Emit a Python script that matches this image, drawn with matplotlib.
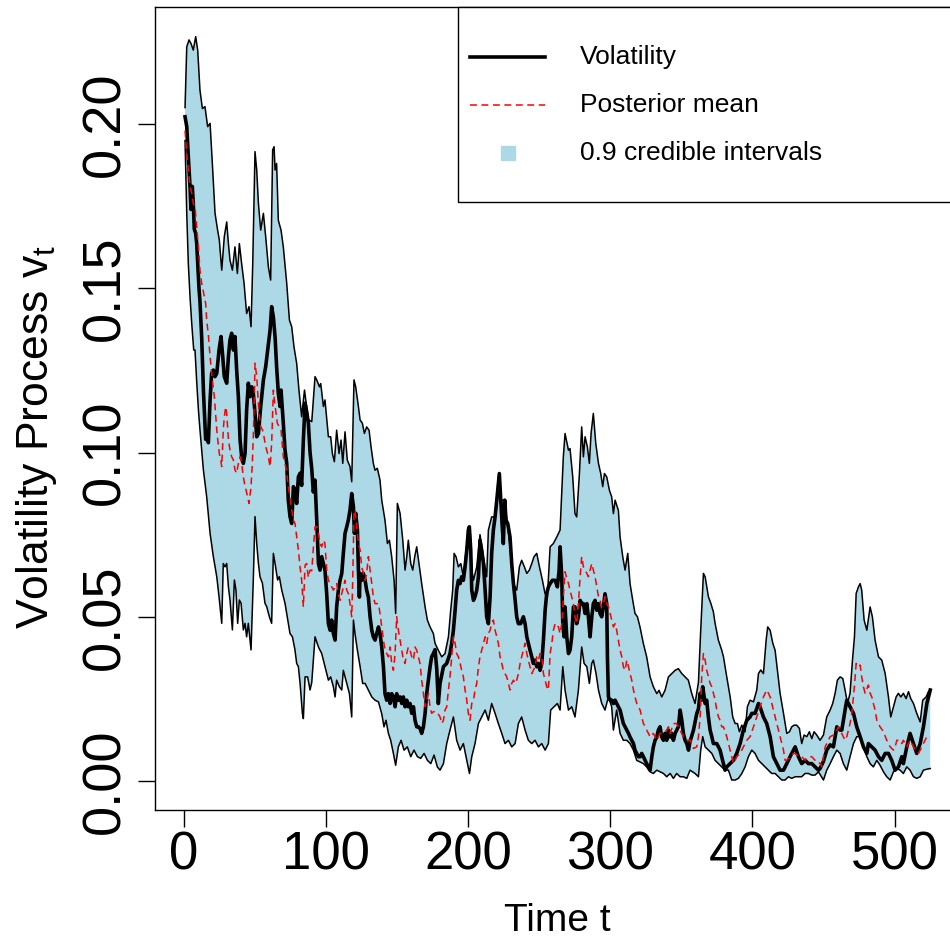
import matplotlib
matplotlib.use("Agg")
import matplotlib.pyplot as plt
from matplotlib.patches import Rectangle

plt.rcParams['font.family'] = ['Liberation Sans', 'DejaVu Sans']

# 0.9 credible interval, upper bound
upper_t = [1.0, 2.2, 3.8, 5.2, 6.8, 8.5, 9.9, 11.5, 13.2, 15.0, 16.9, 18.6, 20.2, 22.1, 23.9, 25.1, 26.8,
           28.6, 30.3, 31.5, 32.6, 34.3, 36.1, 37.8, 39.2, 40.8, 42.5, 44.3, 46.0, 47.4, 48.6, 50.2, 51.4,
           52.6, 54.2, 56.1, 57.7, 59.6, 61.2, 62.6, 63.6, 64.3, 65.4, 66.6, 68.5, 70.1, 72.5, 74.4, 76.0,
           77.6, 79.5, 81.1, 83.0, 85.0, 87.7, 90.1, 92.4, 93.6, 95.5, 96.4, 98.3, 99.4, 101.8, 103.4, 104.6,
           106.0, 107.6, 109.3, 110.7, 111.9, 113.5, 115.1, 117.0, 118.2, 119.8, 121.0, 122.9, 124.1, 125.7,
           127.1, 128.7, 130.4, 131.8, 133.4, 134.6, 136.2, 138.1, 139.3, 141.6, 143.3, 144.7, 146.3, 148.0,
           149.1, 150.3, 152.2, 154.1, 155.7, 156.9, 158.0, 159.7, 161.1, 162.5, 163.9, 165.5, 167.4, 169.8,
           171.4, 173.3, 175.6, 176.8, 179.1, 181.5, 183.8, 186.2, 187.8, 189.2, 190.2, 191.6, 193.2, 194.9,
           196.7, 198.6, 200.2, 201.4, 202.6, 203.8, 206.1, 208.4, 210.8, 213.1, 214.3, 216.6, 219.0, 221.3,
           223.0, 225.3, 227.7, 229.5, 231.9, 234.2, 236.1, 237.7, 239.6, 241.3, 243.1, 244.8, 246.4, 248.3,
           250.2, 252.3, 254.1, 255.8, 257.7, 260.0, 262.4, 264.7, 267.0, 268.2, 270.6, 271.7, 273.6, 275.2,
           276.4, 278.3, 279.9, 281.1, 282.3, 283.9, 285.3, 286.5, 288.1, 289.8, 291.7, 293.3, 294.7, 295.9,
           297.5, 299.4, 301.0, 302.2, 303.4, 305.7, 306.9, 308.8, 310.4, 312.3, 313.9, 315.8, 317.4, 319.1,
           320.9, 323.3, 325.6, 328.0, 330.3, 332.7, 334.3, 336.2, 338.5, 340.9, 343.2, 345.6, 347.9, 350.3,
           352.6, 354.9, 357.3, 359.6, 362.0, 363.5, 365.5, 366.7, 369.0, 370.7, 372.5, 373.7, 376.0, 378.4,
           379.6, 381.9, 384.3, 386.1, 387.8, 389.4, 390.8, 392.5, 394.8, 396.4, 398.3, 400.7, 403.0, 404.2,
           405.8, 407.7, 409.6, 410.7, 412.4, 414.3, 415.9, 417.5, 419.4, 421.8, 424.1, 426.0, 427.6, 429.2,
           431.1, 433.0, 434.6, 436.3, 438.2, 440.0, 441.7, 443.3, 445.2, 447.5, 449.9, 452.2, 454.6, 456.4,
           458.1, 459.7, 461.6, 463.5, 465.1, 466.8, 468.6, 470.3, 471.7, 472.9, 474.5, 475.7, 476.8, 478.5,
           480.4, 482.7, 484.3, 486.2, 488.6, 490.9, 493.3, 495.6, 497.2, 499.1, 501.0, 502.6, 504.3, 506.1,
           508.0, 509.7, 511.3, 513.2, 515.5, 517.9, 519.7, 522.1, 523.7, 525.0]
upper_v = [0.205, 0.2235, 0.2256, 0.2245, 0.2225, 0.2266, 0.2225, 0.2103, 0.2047, 0.2053, 0.1992, 0.2002, 0.188,
           0.1728, 0.1677, 0.1647, 0.1555, 0.1657, 0.1702, 0.1636, 0.1586, 0.1555, 0.1626, 0.1545, 0.1636, 0.1575,
           0.1515, 0.1423, 0.1444, 0.1383, 0.1575, 0.1916, 0.186, 0.1758, 0.1677, 0.1728, 0.1657, 0.1565, 0.1525,
           0.1921, 0.1931, 0.186, 0.188, 0.1707, 0.1677, 0.1626, 0.1515, 0.1403, 0.1383, 0.1322, 0.1271, 0.119,
           0.1109, 0.119, 0.110, 0.1094, 0.1231, 0.1221, 0.120, 0.121, 0.114, 0.116, 0.1048, 0.1048, 0.0997,
           0.0972, 0.1068, 0.0997, 0.1038, 0.0967, 0.1063, 0.0977, 0.0957, 0.0911, 0.1221, 0.120, 0.114, 0.1099,
           0.1089, 0.1058, 0.1078, 0.1068, 0.1017, 0.0967, 0.0946, 0.0952, 0.0916, 0.0855, 0.0794, 0.0723, 0.0733,
           0.0683, 0.0611, 0.051, 0.0845, 0.0815, 0.0733, 0.0642, 0.0683, 0.0733, 0.0662, 0.0642, 0.0683, 0.0713,
           0.0662, 0.0601, 0.053, 0.049, 0.0469, 0.0449, 0.0419, 0.0398, 0.0378, 0.0388, 0.0439, 0.052, 0.0581,
           0.0693, 0.0682, 0.0652, 0.0662, 0.0622, 0.0703, 0.0754, 0.0774, 0.0642, 0.0611, 0.0652, 0.075, 0.0682,
           0.0622, 0.0764, 0.0804, 0.0804, 0.0926, 0.0855, 0.0855, 0.0784, 0.0713, 0.0601, 0.0581, 0.0652, 0.0672,
           0.0652, 0.0632, 0.0642, 0.0662, 0.0683, 0.0693, 0.0652, 0.0611, 0.0571, 0.0561, 0.0713, 0.0723, 0.0743,
           0.0764, 0.0987, 0.1058, 0.1007, 0.1012, 0.0926, 0.0814, 0.0804, 0.0936, 0.1078, 0.0987, 0.1048, 0.1017,
           0.0967, 0.1058, 0.1119, 0.1028, 0.0967, 0.0936, 0.0896, 0.0936, 0.0926, 0.0885, 0.0865, 0.0814, 0.0855,
           0.0824, 0.0743, 0.0682, 0.0642, 0.0693, 0.0601, 0.055, 0.051, 0.050, 0.0469, 0.0418, 0.0378, 0.0317,
           0.0287, 0.0266, 0.0276, 0.0256, 0.0276, 0.0317, 0.0327, 0.0337, 0.0342, 0.0327, 0.0317, 0.0307, 0.0266,
           0.0236, 0.030, 0.045, 0.0632, 0.0622, 0.0561, 0.0541, 0.0515, 0.048, 0.0429, 0.0398, 0.0378, 0.0317,
           0.0256, 0.0195, 0.0175, 0.0175, 0.015, 0.017, 0.015, 0.0226, 0.0246, 0.0241, 0.0277, 0.0327, 0.0338,
           0.0327, 0.0429, 0.0469, 0.0459, 0.0419, 0.0398, 0.0338, 0.0267, 0.0206, 0.0145, 0.015, 0.0165, 0.017,
           0.017, 0.016, 0.0114, 0.014, 0.0135, 0.015, 0.0129, 0.015, 0.014, 0.0124, 0.014, 0.0195, 0.0216, 0.0236,
           0.0267, 0.0307, 0.0317, 0.0312, 0.0277, 0.0236, 0.0267, 0.0368, 0.0439, 0.0571, 0.0591, 0.0601, 0.0581,
           0.049, 0.0459, 0.053, 0.050, 0.0429, 0.0378, 0.0368, 0.0327, 0.0256, 0.0195, 0.0226, 0.0256, 0.0267,
           0.0256, 0.0267, 0.0251, 0.0272, 0.0251, 0.0236, 0.0206, 0.018, 0.0246, 0.0256, 0.0272, 0.0277]

# 0.9 credible interval, lower bound
lower_t = [1.0, 2.2, 3.3, 4.5, 5.7, 7.1, 8.0, 9.2, 10.4, 11.5, 13.9, 16.2, 18.6, 20.9, 23.3, 24.9, 26.8, 27.9,
           29.1, 30.3, 31.5, 32.6, 34.3, 35.7, 36.8, 38.0, 39.2, 40.4, 42.0, 43.2, 44.3, 45.5, 47.4, 49.0, 50.2,
           51.4, 52.6, 53.7, 55.4, 57.2, 58.4, 60.3, 61.9, 63.1, 64.3, 66.1, 67.3, 69.0, 71.3, 73.6, 74.8, 76.5,
           78.3, 79.5, 80.7, 81.9, 83.5, 84.2, 85.4, 87.2, 88.9, 90.1, 92.4, 94.8, 97.1, 99.4, 101.8, 103.4, 105.3,
           106.5, 107.6, 109.5, 111.2, 112.3, 114.7, 116.6, 118.2, 119.4, 120.5, 122.2, 124.1, 125.9, 127.6, 129.9,
           132.3, 134.6, 137.0, 139.3, 140.9, 142.3, 144.0, 145.6, 147.5, 149.1, 151.0, 152.9, 155.0, 157.3, 159.7,
           162.0, 164.4, 166.7, 169.1, 171.4, 173.8, 176.1, 178.4, 180.3, 182.7, 185.0, 187.3, 189.7, 192.0, 194.4,
           196.7, 199.1, 201.0, 202.6, 204.9, 207.3, 209.6, 212.0, 214.3, 216.6, 219.0, 221.3, 223.7, 226.0, 228.4,
           230.7, 233.1, 235.4, 237.7, 240.1, 242.4, 244.8, 247.1, 249.5, 251.8, 254.2, 256.5, 258.1, 260.5, 262.8,
           264.7, 266.6, 268.2, 270.6, 272.9, 275.2, 277.6, 279.9, 281.6, 283.5, 285.3, 287.0, 288.1, 290.0, 291.7,
           294.0, 296.3, 298.7, 301.0, 302.2, 304.5, 306.9, 309.2, 311.6, 313.9, 316.3, 318.6, 321.0, 323.3, 325.6,
           328.0, 330.3, 332.7, 335.0, 337.4, 339.7, 342.1, 344.4, 346.7, 349.1, 351.4, 353.8, 356.1, 359.6, 362.0,
           363.6, 365.0, 366.7, 369.0, 371.4, 373.7, 376.0, 378.4, 380.7, 383.1, 385.4, 387.8, 390.1, 392.5, 394.8,
           397.1, 399.5, 401.8, 404.2, 406.5, 408.9, 411.2, 413.5, 415.9, 418.2, 420.6, 422.9, 425.3, 427.6, 430.0,
           432.3, 434.6, 437.0, 439.3, 441.7, 444.0, 446.4, 449.9, 452.2, 454.6, 456.9, 459.3, 461.6, 463.9, 466.3,
           468.6, 471.0, 473.3, 475.7, 478.0, 480.4, 482.7, 485.0, 487.4, 489.7, 492.1, 494.4, 496.8, 499.1, 501.5,
           503.8, 506.1, 508.5, 510.8, 513.2, 515.5, 517.9, 520.2, 522.6, 525.0]
lower_v = [0.195, 0.1728, 0.1575, 0.1474, 0.1393, 0.1312, 0.1312, 0.1215, 0.113, 0.1069, 0.0947, 0.0866, 0.0754,
           0.0683, 0.0622, 0.0561, 0.048, 0.0662, 0.0652, 0.0662, 0.0591, 0.0551, 0.046, 0.0612, 0.0581, 0.048,
           0.0551, 0.0541, 0.046, 0.048, 0.0439, 0.048, 0.0399, 0.0612, 0.0805, 0.0723, 0.0662, 0.0622, 0.0602,
           0.0541, 0.0531, 0.050, 0.048, 0.0693, 0.0662, 0.0612, 0.0622, 0.0581, 0.0541, 0.048, 0.0449, 0.0439,
           0.0399, 0.0358, 0.0348, 0.0297, 0.0206, 0.019, 0.0317, 0.0317, 0.0277, 0.030, 0.0439, 0.0408, 0.0388,
           0.0348, 0.0307, 0.0317, 0.0287, 0.0256, 0.0307, 0.0287, 0.0277, 0.0337, 0.0297, 0.0266, 0.0195, 0.049,
           0.0449, 0.0398, 0.0348, 0.0297, 0.0297, 0.0277, 0.0256, 0.0246, 0.0241, 0.0205, 0.0165, 0.0185, 0.0145,
           0.0124, 0.0084, 0.0048, 0.0104, 0.0124, 0.0094, 0.0104, 0.0074, 0.0094, 0.0074, 0.0069, 0.0084, 0.0063,
           0.0053, 0.0079, 0.0043, 0.0033, 0.0053, 0.0114, 0.0155, 0.0195, 0.0124, 0.0094, 0.0114, 0.0063, 0.0023,
           0.0074, 0.0114, 0.0175, 0.0195, 0.0216, 0.0185, 0.0236, 0.0206, 0.0175, 0.0145, 0.0114, 0.0124, 0.0104,
           0.0114, 0.0175, 0.0195, 0.0155, 0.0124, 0.0114, 0.0124, 0.0104, 0.0114, 0.0094, 0.0114, 0.0216, 0.0226,
           0.0236, 0.0216, 0.0348, 0.0277, 0.0216, 0.0226, 0.0195, 0.0277, 0.0408, 0.0358, 0.0348, 0.0297, 0.0358,
           0.0368, 0.0327, 0.0277, 0.0236, 0.0216, 0.0256, 0.0226, 0.0155, 0.0216, 0.0145, 0.0124, 0.0124, 0.0114,
           0.0094, 0.0063, 0.0058, 0.0053, 0.0043, 0.0028, 0.0023, 0.0033, 0.0028, 0.0023, 0.0013, 0.0023, 0.0008,
           0.0023, 0.0013, 0.0013, 0.0008, 0.0033, 0.0023, 0.0013, 0.0094, 0.0135, 0.0104, 0.0094, 0.0084, 0.0063,
           0.0053, 0.0043, 0.0033, 0.0033, 0.0003, 0.0003, 0.0008, 0.0023, 0.0043, 0.0074, 0.0094, 0.0084, 0.0063,
           0.0053, 0.0043, 0.0033, 0.0023, 0.0023, 0.0013, 0.0003, 0.0003, 0.0013, 0.0008, 0.0013, 0.0013, 0.0013,
           0.0023, 0.0023, 0.0018, 0.0018, 0.0028, 0.0003, 0.0033, 0.0053, 0.0074, 0.0094, 0.0084, 0.0053, 0.0033,
           0.0074, 0.0114, 0.0135, 0.0135, 0.0104, 0.0074, 0.0053, 0.0043, 0.0063, 0.0048, 0.0028, 0.0013, 0.0003,
           0.0028, 0.0038, 0.0033, 0.0023, 0.0043, 0.0033, 0.0013, 0.0008, 0.0013, 0.0033, 0.0036, 0.0038]

# true volatility path
vol_t = [1.0, 2.2, 3.3, 4.5, 5.2, 6.1, 6.8, 7.5, 8.5, 9.2, 9.9, 10.8, 11.5, 12.7, 14.0, 15.5, 16.5, 17.4, 18.6,
         19.7, 20.9, 22.1, 23.3, 24.9, 26.3, 27.5, 28.6, 30.3, 31.5, 32.6, 33.8, 35.0, 36.1, 37.3, 38.5, 39.7,
         40.8, 42.0, 43.2, 44.3, 45.5, 46.7, 47.9, 49.0, 50.2, 51.4, 52.6, 54.2, 56.1, 57.7, 59.1, 60.8, 61.9,
         63.1, 64.3, 65.4, 66.6, 67.8, 68.5, 70.1, 71.3, 72.5, 73.6, 74.8, 76.0, 77.2, 78.3, 79.5, 80.7, 81.9,
         83.0, 84.2, 85.4, 86.5, 87.7, 88.9, 90.1, 91.2, 92.4, 93.6, 94.8, 95.9, 97.1, 98.3, 99.4, 100.6, 101.8,
         103.0, 104.1, 105.3, 106.5, 107.6, 108.8, 110.0, 111.2, 112.3, 113.5, 114.7, 115.8, 117.0, 118.2, 119.4,
         120.1, 121.0, 122.2, 122.9, 123.6, 124.1, 125.2, 126.4, 127.6, 128.7, 129.9, 131.1, 132.3, 133.4, 134.6,
         135.8, 137.0, 138.1, 139.3, 140.5, 141.6, 142.8, 144.0, 145.2, 146.3, 147.5, 148.7, 149.8, 151.0, 152.2,
         153.4, 154.5, 155.7, 156.9, 158.0, 159.2, 160.4, 161.6, 162.7, 163.9, 165.1, 166.2, 167.4, 168.6, 169.8,
         170.9, 172.1, 173.3, 174.4, 175.6, 176.8, 178.0, 179.1, 180.3, 182.7, 185.0, 187.3, 188.5, 189.7, 190.9,
         192.0, 193.2, 194.4, 195.5, 196.7, 197.9, 199.1, 200.2, 200.9, 201.9, 202.6, 203.8, 204.9, 206.1, 207.3,
         208.4, 209.6, 210.8, 212.0, 213.1, 214.3, 215.5, 216.6, 217.8, 219.0, 220.2, 221.3, 222.0, 223.0, 223.9,
         224.8, 225.8, 226.7, 227.9, 229.5, 230.7, 231.9, 233.1, 234.2, 235.4, 237.0, 238.9, 240.1, 241.3, 242.4,
         243.6, 244.8, 245.9, 247.1, 248.3, 249.5, 250.6, 251.8, 253.0, 254.2, 255.3, 256.5, 257.7, 259.3, 261.2,
         262.8, 264.0, 264.7, 265.9, 266.6, 267.5, 268.2, 269.4, 270.6, 271.7, 272.9, 274.1, 275.2, 276.4, 277.6,
         278.8, 279.9, 281.1, 282.3, 283.5, 284.6, 285.8, 287.0, 288.1, 289.3, 290.5, 291.7, 292.8, 294.0, 295.2,
         296.3, 297.5, 298.0, 298.7, 299.9, 301.0, 302.2, 303.4, 304.5, 305.7, 306.9, 308.1, 309.2, 310.4, 311.6,
         312.8, 313.9, 315.1, 316.3, 317.4, 318.6, 319.8, 321.0, 322.1, 323.3, 324.5, 325.6, 326.8, 328.0, 329.2,
         330.3, 331.5, 332.7, 333.8, 335.0, 336.2, 337.4, 338.5, 339.7, 340.9, 342.1, 343.2, 344.4, 345.6, 346.7,
         347.9, 349.1, 350.3, 351.4, 352.6, 353.8, 355.0, 356.1, 358.5, 360.8, 362.0, 363.2, 364.3, 365.0, 366.7,
         367.8, 369.0, 370.2, 371.4, 372.5, 374.9, 377.2, 379.6, 380.7, 381.9, 384.2, 386.6, 388.9, 391.3, 393.6,
         396.0, 398.3, 399.5, 401.8, 404.2, 405.3, 407.7, 410.0, 412.4, 414.7, 417.1, 419.4, 421.8, 424.1, 426.4,
         428.8, 430.0, 432.3, 434.6, 437.0, 439.3, 441.7, 444.0, 446.4, 447.5, 449.9, 452.2, 454.6, 456.9, 458.1,
         459.3, 461.6, 462.8, 463.9, 465.1, 466.3, 468.6, 471.0, 473.3, 475.7, 478.0, 480.4, 481.5, 483.9, 486.2,
         488.6, 490.9, 493.3, 495.6, 497.9, 500.3, 502.6, 505.0, 506.1, 508.5, 510.8, 513.2, 515.5, 517.9, 520.2,
         522.6, 525.0]
vol_v = [0.2022, 0.1992, 0.190, 0.181, 0.174, 0.181, 0.176, 0.168, 0.1667, 0.1636, 0.1575, 0.150, 0.146, 0.135,
         0.118, 0.104, 0.106, 0.103, 0.116, 0.1241, 0.1251, 0.1231, 0.1241, 0.1312, 0.1353, 0.1292, 0.1231, 0.1211,
         0.1292, 0.1343, 0.1363, 0.1312, 0.1353, 0.1251, 0.117, 0.1038, 0.0987, 0.0967, 0.0997, 0.1129, 0.1211,
         0.117, 0.120, 0.118, 0.112, 0.1048, 0.1058, 0.114, 0.1221, 0.1261, 0.1312, 0.1373, 0.1444, 0.1413, 0.1352,
         0.1261, 0.118, 0.114, 0.119, 0.1089, 0.1008, 0.0967, 0.0855, 0.0805, 0.0784, 0.0896, 0.0886, 0.0845,
         0.0926, 0.0937, 0.090, 0.1038, 0.115, 0.1125, 0.109, 0.100, 0.095, 0.088, 0.0916, 0.0794, 0.0662, 0.0642,
         0.0683, 0.0662, 0.0642, 0.057, 0.0479, 0.0459, 0.049, 0.0449, 0.0429, 0.053, 0.0581, 0.0611, 0.0632,
         0.0693, 0.0754, 0.0774, 0.0794, 0.0825, 0.0875, 0.0835, 0.0754, 0.0815, 0.0764, 0.0642, 0.056, 0.0632,
         0.0611, 0.0632, 0.0611, 0.0581, 0.056, 0.050, 0.0459, 0.0439, 0.0429, 0.0449, 0.0469, 0.0449, 0.0408,
         0.0348, 0.0266, 0.0246, 0.0266, 0.0236, 0.0266, 0.0256, 0.0226, 0.0266, 0.0246, 0.0256, 0.0236, 0.0256,
         0.0226, 0.0246, 0.0226, 0.0236, 0.0206, 0.0226, 0.0185, 0.0165, 0.0165, 0.016, 0.0145, 0.0165, 0.0206,
         0.0266, 0.0307, 0.0348, 0.0378, 0.0388, 0.040, 0.034, 0.0236, 0.0297, 0.0348, 0.0358, 0.0388, 0.0419,
         0.0459, 0.052, 0.0581, 0.0611, 0.0601, 0.0622, 0.0611, 0.0652, 0.0703, 0.0764, 0.0774, 0.0703, 0.0581,
         0.055, 0.0561, 0.0581, 0.0622, 0.0733, 0.0703, 0.0662, 0.0581, 0.050, 0.0479, 0.0561, 0.0693, 0.0764,
         0.0804, 0.0855, 0.0906, 0.0936, 0.0855, 0.0784, 0.0723, 0.0855, 0.0794, 0.0784, 0.0743, 0.0662, 0.0601,
         0.0551, 0.050, 0.0479, 0.0479, 0.050, 0.0479, 0.0439, 0.0419, 0.0398, 0.0378, 0.0358, 0.0368, 0.0348,
         0.0358, 0.0337, 0.0358, 0.0429, 0.052, 0.0571, 0.0591, 0.0601, 0.0611, 0.0611, 0.0591, 0.064, 0.0713,
         0.0622, 0.0479, 0.0439, 0.053, 0.0439, 0.0388, 0.0398, 0.0439, 0.053, 0.053, 0.0479, 0.050, 0.055, 0.054,
         0.054, 0.051, 0.054, 0.050, 0.0439, 0.050, 0.054, 0.055, 0.052, 0.054, 0.051, 0.050, 0.053, 0.057, 0.054,
         0.0378, 0.0256, 0.0246, 0.0246, 0.0236, 0.0246, 0.0236, 0.0226, 0.0216, 0.0195, 0.0175, 0.0165, 0.0155,
         0.0145, 0.0134, 0.0124, 0.0114, 0.0094, 0.0084, 0.0074, 0.0074, 0.0084, 0.0074, 0.0063, 0.0053, 0.0043,
         0.0033, 0.0074, 0.0104, 0.0124, 0.0134, 0.0155, 0.0165, 0.0134, 0.0124, 0.0145, 0.0124, 0.0155, 0.0134,
         0.0145, 0.0124, 0.0145, 0.0155, 0.0165, 0.0216, 0.0185, 0.0145, 0.0124, 0.0114, 0.0094, 0.012, 0.0155,
         0.0205, 0.022, 0.0267, 0.0246, 0.0287, 0.0236, 0.0246, 0.0195, 0.0155, 0.0135, 0.0114, 0.0114, 0.0094,
         0.0053, 0.0033, 0.0043, 0.0053, 0.0063, 0.0084, 0.0114, 0.0155, 0.0185, 0.0195, 0.0206, 0.0206, 0.0236,
         0.0226, 0.0195, 0.0175, 0.0135, 0.0074, 0.0053, 0.0033, 0.0033, 0.0053, 0.0074, 0.0094, 0.0104, 0.0074,
         0.0053, 0.0063, 0.0053, 0.0053, 0.0043, 0.0033, 0.0038, 0.006, 0.0094, 0.011, 0.0104, 0.0135, 0.0165,
         0.0155, 0.0155, 0.0185, 0.0216, 0.0246, 0.0226, 0.0206, 0.0165, 0.0135, 0.0104, 0.0084, 0.0114, 0.0104,
         0.0094, 0.0074, 0.0063, 0.0084, 0.0084, 0.0063, 0.0033, 0.0043, 0.0074, 0.0053, 0.0104, 0.0145, 0.0114,
         0.0084, 0.0114, 0.0165, 0.0236, 0.0277]

# posterior mean
mean_t = [1.0, 2.2, 3.3, 4.5, 5.7, 6.8, 8.0, 9.2, 10.4, 11.5, 12.7, 14.6, 15.5, 16.2, 17.4, 18.6, 20.2, 21.6,
          22.6, 23.3, 24.0, 25.1, 26.1, 26.8, 27.9, 28.6, 29.6, 30.3, 31.5, 32.6, 33.8, 35.0, 36.1, 37.3, 38.5,
          39.7, 40.8, 42.0, 43.2, 43.9, 45.0, 46.0, 47.4, 48.3, 49.0, 49.7, 50.2, 51.4, 52.1, 53.0, 54.2, 55.4,
          56.5, 57.7, 59.1, 60.8, 61.9, 62.6, 63.1, 63.8, 64.7, 65.9, 67.1, 68.5, 70.1, 71.3, 72.5, 73.6, 74.8,
          76.0, 77.2, 78.3, 79.5, 80.7, 81.9, 83.0, 84.2, 85.4, 86.5, 87.7, 88.9, 90.1, 91.2, 92.4, 93.6, 94.8,
          95.9, 97.1, 98.3, 99.4, 100.6, 101.8, 103.0, 104.1, 105.3, 106.5, 107.6, 108.8, 110.0, 111.2, 112.3,
          113.5, 114.7, 115.8, 117.0, 118.2, 118.9, 119.8, 120.5, 121.7, 122.9, 124.1, 125.2, 126.4, 127.6, 128.7,
          129.9, 131.1, 132.3, 133.4, 134.6, 137.0, 138.1, 139.3, 140.5, 141.6, 142.8, 144.0, 145.2, 146.3, 147.5,
          148.7, 149.8, 151.0, 152.2, 153.4, 154.5, 155.7, 156.9, 158.0, 159.2, 160.4, 161.6, 162.7, 163.9, 165.1,
          166.2, 167.4, 168.6, 169.8, 170.9, 172.1, 173.3, 174.4, 175.6, 178.0, 180.3, 181.5, 182.7, 183.8, 185.0,
          186.2, 187.3, 188.5, 189.7, 190.9, 192.0, 193.2, 194.4, 195.5, 196.7, 197.9, 199.1, 200.2, 201.4, 202.6,
          203.8, 204.9, 206.1, 207.3, 208.4, 209.6, 210.8, 212.0, 213.1, 214.3, 215.5, 216.6, 217.8, 219.0, 220.2,
          221.3, 222.5, 223.7, 224.8, 226.0, 227.2, 228.4, 229.5, 230.7, 231.9, 233.1, 234.2, 235.4, 236.6, 237.7,
          238.9, 240.1, 241.3, 242.4, 243.6, 244.8, 245.9, 247.1, 248.3, 249.5, 250.6, 251.8, 253.0, 254.2, 255.3,
          256.5, 257.7, 258.9, 260.0, 261.2, 262.4, 263.5, 264.7, 265.9, 267.0, 268.2, 269.4, 270.6, 271.7, 272.9,
          274.1, 275.2, 276.4, 277.6, 278.8, 279.9, 281.1, 282.3, 283.5, 284.6, 285.8, 287.0, 288.1, 289.3, 290.5,
          291.7, 292.8, 294.0, 295.2, 296.3, 297.5, 298.7, 299.9, 301.0, 302.2, 303.4, 304.5, 305.7, 306.9, 308.1,
          309.2, 310.4, 311.6, 312.8, 313.9, 315.1, 316.3, 317.4, 318.6, 319.8, 321.0, 322.1, 323.3, 324.5, 325.6,
          326.8, 328.0, 330.3, 332.7, 335.0, 337.4, 339.7, 340.9, 342.1, 344.4, 346.7, 349.1, 351.4, 353.8, 356.1,
          358.5, 360.8, 362.0, 363.2, 364.3, 365.5, 366.7, 367.8, 369.0, 370.2, 371.4, 372.5, 373.7, 374.9, 376.0,
          377.2, 378.4, 379.6, 381.9, 383.1, 384.2, 385.4, 386.6, 387.8, 388.9, 391.3, 393.6, 396.0, 398.3, 400.7,
          403.0, 405.3, 407.7, 410.0, 411.2, 412.4, 414.7, 417.1, 419.4, 421.8, 422.9, 424.1, 426.4, 428.8, 430.0,
          432.3, 434.6, 437.0, 439.3, 441.7, 444.0, 446.4, 447.5, 448.7, 449.9, 451.1, 452.2, 454.6, 456.9, 459.3,
          460.4, 461.6, 463.9, 465.1, 466.3, 468.6, 469.8, 471.0, 472.2, 472.9, 474.5, 475.7, 476.8, 478.0, 479.2,
          481.5, 482.7, 483.9, 485.0, 486.2, 487.4, 489.7, 492.1, 494.4, 496.8, 499.1, 500.3, 501.5, 503.8, 505.0,
          506.1, 508.5, 510.8, 513.2, 515.5, 516.7, 517.9, 520.2, 522.6, 525.0]
mean_v = [0.198, 0.191, 0.186, 0.1809, 0.179, 0.1758, 0.1748, 0.1687, 0.1626, 0.1555, 0.1515, 0.1474, 0.1454,
          0.1403, 0.1358, 0.1292, 0.1221, 0.117, 0.1109, 0.1069, 0.1038, 0.0997, 0.0977, 0.0957, 0.1069, 0.1109,
          0.1139, 0.1119, 0.1038, 0.1008, 0.0987, 0.0977, 0.0947, 0.0937, 0.0967, 0.0987, 0.0967, 0.0926, 0.0896,
          0.0886, 0.0865, 0.0845, 0.0896, 0.0967, 0.1048, 0.117, 0.1272, 0.1231, 0.118, 0.112, 0.1079, 0.1069,
          0.1048, 0.1018, 0.0997, 0.0957, 0.1028, 0.1119, 0.119, 0.116, 0.113, 0.1089, 0.1079, 0.1069, 0.0987,
          0.0967, 0.0937, 0.0896, 0.0865, 0.0825, 0.0794, 0.0784, 0.0744, 0.0703, 0.065, 0.0612, 0.053, 0.0657,
          0.0662, 0.062, 0.0642, 0.064, 0.0708, 0.0774, 0.0774, 0.0754, 0.0723, 0.0713, 0.0733, 0.0723, 0.0642,
          0.0611, 0.0601, 0.0591, 0.0581, 0.0591, 0.0601, 0.0571, 0.055, 0.0571, 0.0591, 0.0611, 0.0581, 0.0571,
          0.054, 0.050, 0.0611, 0.0815, 0.0825, 0.0774, 0.0723, 0.0703, 0.0652, 0.0632, 0.0611, 0.0632, 0.0683,
          0.0642, 0.0601, 0.056, 0.054, 0.054, 0.051, 0.0469, 0.0429, 0.0398, 0.0388, 0.0378, 0.0408, 0.0358,
          0.0337, 0.0388, 0.050, 0.0459, 0.0429, 0.0398, 0.0368, 0.0358, 0.0388, 0.0408, 0.0398, 0.0378, 0.0368,
          0.0408, 0.0398, 0.0378, 0.0358, 0.0307, 0.0266, 0.0226, 0.0246, 0.0266, 0.0226, 0.0206, 0.0211, 0.0211,
          0.0195, 0.0175, 0.0185, 0.0216, 0.0226, 0.0277, 0.0317, 0.0378, 0.0439, 0.0419, 0.0388, 0.0378, 0.0358,
          0.0337, 0.0317, 0.0277, 0.0246, 0.0206, 0.0185, 0.0236, 0.0246, 0.0277, 0.0297, 0.0348, 0.0378, 0.0398,
          0.0419, 0.0439, 0.0419, 0.0449, 0.0459, 0.0479, 0.049, 0.0459, 0.0439, 0.0419, 0.0378, 0.0358, 0.0337,
          0.0327, 0.0317, 0.0297, 0.0277, 0.0297, 0.0307, 0.0297, 0.0307, 0.0327, 0.0358, 0.0378, 0.0398, 0.0419,
          0.0388, 0.0368, 0.0348, 0.0327, 0.0337, 0.0348, 0.0378, 0.0368, 0.0388, 0.0378, 0.0327, 0.0307, 0.0287,
          0.0277, 0.0388, 0.0419, 0.0459, 0.0479, 0.0479, 0.0469, 0.0449, 0.0479, 0.0561, 0.0637, 0.0617, 0.0601,
          0.0581, 0.0561, 0.054, 0.050, 0.0479, 0.054, 0.0622, 0.0683, 0.0652, 0.0642, 0.0632, 0.0622, 0.0642,
          0.0662, 0.0642, 0.0622, 0.0591, 0.0561, 0.055, 0.053, 0.054, 0.0561, 0.054, 0.053, 0.051, 0.049, 0.0469,
          0.0479, 0.0459, 0.0429, 0.0398, 0.0378, 0.0348, 0.0337, 0.0368, 0.0348, 0.0327, 0.0307, 0.0277, 0.0256,
          0.0236, 0.0226, 0.0216, 0.0195, 0.0175, 0.0165, 0.0155, 0.0145, 0.0134, 0.0145, 0.0124, 0.0145, 0.0145,
          0.0155, 0.0165, 0.0145, 0.0175, 0.0175, 0.0155, 0.0134, 0.0124, 0.0125, 0.0099, 0.0104, 0.0135, 0.0196,
          0.0317, 0.0388, 0.0368, 0.0338, 0.0317, 0.0297, 0.0287, 0.0267, 0.0246, 0.0216, 0.0196, 0.0185, 0.0165,
          0.0165, 0.0135, 0.0114, 0.0094, 0.0074, 0.0053, 0.0063, 0.0074, 0.0084, 0.0104, 0.0124, 0.0135, 0.0165,
          0.0196, 0.0226, 0.0256, 0.0277, 0.0267, 0.0256, 0.0216, 0.0175, 0.0135, 0.0094, 0.0063, 0.0063, 0.0074,
          0.0084, 0.0084, 0.0074, 0.0074, 0.0063, 0.0074, 0.0074, 0.0063, 0.0053, 0.0055, 0.0043, 0.0074, 0.0104,
          0.0114, 0.0135, 0.014, 0.0155, 0.0165, 0.0155, 0.0135, 0.0124, 0.0135, 0.0175, 0.0206, 0.0256, 0.0317,
          0.0358, 0.0348, 0.0353, 0.0317, 0.0287, 0.0267, 0.0292, 0.0267, 0.0256, 0.0236, 0.0216, 0.0185, 0.0165,
          0.015, 0.0124, 0.0104, 0.0094, 0.0104, 0.0124, 0.0124, 0.0114, 0.0124, 0.0104, 0.0124, 0.0104, 0.0089,
          0.0084, 0.0094, 0.0114, 0.0135, 0.013]

x_ticks = [0, 100, 200, 300, 400, 500]
y_ticks = [0.00, 0.05, 0.10, 0.15, 0.20]
legend_labels = ['Volatility', 'Posterior mean', '0.9 credible intervals']

fig = plt.figure(figsize=(9.5, 9.42), dpi=100)
# plot box runs a little past the right edge of the image, as in the original
ax = fig.add_axes([0.1634, 0.1401, 0.8472, 0.8524])

# credible band: filled polygon with thin black border lines
ax.fill(upper_t + lower_t[::-1], upper_v + lower_v[::-1], color='lightblue', lw=0, zorder=1)
ax.plot(upper_t, upper_v, color='black', lw=1.1, zorder=2)
ax.plot(lower_t, lower_v, color='black', lw=1.1, zorder=2)
ax.plot(vol_t, vol_v, color='black', lw=2.6, zorder=3)
ax.plot(mean_t, mean_v, color='red', lw=1.1, dashes=(4.5, 3), zorder=4)

ax.set_xlim(-19.96, 545.96)
ax.set_ylim(-0.00883, 0.2356)
ax.set_xticks(x_ticks)
ax.set_xticklabels([str(v) for v in x_ticks])
ax.set_yticks(y_ticks)
ax.set_yticklabels(['%.2f' % v for v in y_ticks], rotation=90, va='center')
ax.tick_params(axis='both', direction='out', length=12, width=1, color='black')
ax.tick_params(axis='x', pad=3, labelsize=38)
ax.tick_params(axis='y', pad=6, labelsize=39)
for s in ax.spines.values():
    s.set_linewidth(1)
    s.set_color('black')

ax.set_xlabel('Time t', fontsize=28)
ax.xaxis.set_label_coords(0.5, -0.116)
ax.set_ylabel(r'Volatility Process $\mathregular{v_t}$', fontsize=32)
ax.yaxis.set_label_coords(-0.12, 0.4645)

# legend box drawn like R's legend("topright")
ax.add_patch(Rectangle((0.3762, 0.7572), 0.6238, 0.2428, transform=ax.transAxes,
                       facecolor='white', edgecolor='black', lw=1, zorder=10, clip_on=False))
rows = [0.9377, 0.878, 0.8182]
ax.plot([0.3912, 0.4844], [rows[0], rows[0]], transform=ax.transAxes, color='black', lw=2.6,
        zorder=11, clip_on=False)
ax.plot([0.3912, 0.4844], [rows[1], rows[1]], transform=ax.transAxes, color='red', lw=1.1,
        dashes=(4.5, 3), zorder=11, clip_on=False)
ax.plot([0.4378], [rows[2]], transform=ax.transAxes, marker='s', ms=10, color='lightblue',
        ls='none', zorder=11, clip_on=False)
for lab, yy in zip(legend_labels, rows):
    ax.text(0.5276, yy, lab, transform=ax.transAxes, fontsize=19, va='center', ha='left', zorder=12)

fig.savefig('out.png', dpi=100)
